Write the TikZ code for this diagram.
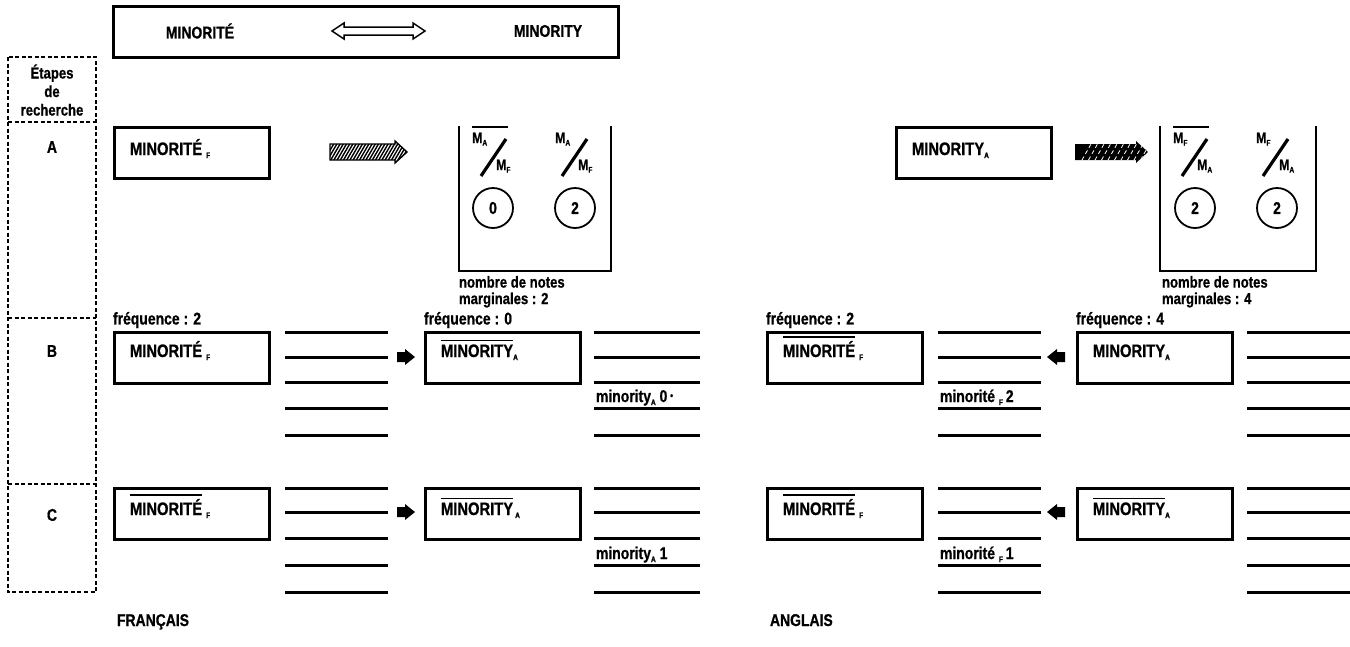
\documentclass[tikz,border=0pt]{standalone}
\usepackage{fontspec}
\newfontfamily\etroite{Liberation Sans}[FakeStretch=0.82, BoldFeatures={FakeBold=0.8}]
\usepackage{tikz}
\usetikzlibrary{positioning}

% indices et mots surlignes
\newcommand\ind[1]{\raisebox{-3pt}{\fontsize{8}{8}\selectfont #1}}
\newcommand\sous[1]{\raisebox{-2.5pt}{\fontsize{8}{8}\selectfont #1}}
\newcommand\barre[1]{\vbox{\hrule height 1.6pt\kern 3pt\hbox{#1}}}

\begin{document}
\begin{tikzpicture}[x=1pt, y=-1pt,
  txt/.style={font=\etroite\bfseries\fontsize{17}{18}\selectfont, inner sep=0pt, outer sep=0pt},
  mot/.style={txt, anchor=base west},
  motb/.style={mot, font=\etroite\bfseries\fontsize{18}{18}\selectfont},
  petit/.style={font=\etroite\bfseries\fontsize{15}{15}\selectfont, inner sep=0pt, anchor=base west},
  boite/.style={draw, line width=2.6pt, anchor=north west, minimum width=155pt, minimum height=51pt, inner sep=0pt},
  trait/.style={line width=3pt},
  tirets/.style={line width=1.6pt, dash pattern=on 4pt off 2.5pt},
  cadre/.style={line width=2.6pt},
  oblique/.style={line width=3.2pt},
  cercle/.style={txt, circle, draw, line width=1.8pt, minimum size=40pt},
  flechette/.pic={\fill (-9,-5) -- (-1,-5) -- (-1,-8) -- (9,0) -- (-1,8) -- (-1,5) -- (-9,5) -- cycle;}
]
  \useasboundingbox (0,0) rectangle (1350,646);

  % Titre
  \node[boite, minimum width=505pt] (haut) at (112,5) {};
  \node[txt] (hautF) at (200,31) {MINORITÉ};
  \node[txt] (hautA) at (548,31) {MINORITY};
  \draw[line width=1.5pt] (332,31) -- (344,23) -- (344,27) -- (413,27) -- (413,23) -- (425,31)
    -- (413,39) -- (413,35) -- (344,35) -- (344,39) -- cycle;

  % Etapes de recherche
  \draw[tirets] (8,57) rectangle (96,592);
  \draw[tirets] (8,122) -- (96,122);
  \draw[tirets] (8,318) -- (96,318);
  \draw[tirets] (8,484) -- (96,484);
  \node[txt, align=center, font=\etroite\bfseries\fontsize{16}{18.5}\selectfont] (etapes) at (52,90) {Étapes\\de\\recherche};
  \node[txt] (etA) at (52,147) {A};
  \node[txt] (etB) at (52,351) {B};
  \node[txt] (etC) at (52,515) {C};

  % Etape A, francais
  \node[boite] (fA) at (113,126) {};
  \node[motb] (fAt) at ([shift={(17,29)}]fA.north west) {MINORITÉ\hspace{4pt}\ind{F}};
  \begin{scope}
    \clip (330,144) -- (395,144) -- (395,141) -- (407,152) -- (395,163) -- (395,160) -- (330,160) -- cycle;
    \foreach \i in {0,...,27} \draw[line width=1.4pt] (322+\i*3.2,164) -- ++(14,-24);
  \end{scope}
  \draw[line width=1.4pt] (330,144) -- (395,144) -- (395,141) -- (407,152) -- (395,163) -- (395,160) -- (330,160) -- cycle;
  \draw[cadre] (459,126) -- (459,271) -- (611,271) -- (611,126);
  \draw[line width=2pt] (472,127) -- (508,127);
  \node[petit] (fMa1) at (472,143) {M\sous{A}};
  \draw[oblique] (481,176) -- (506,139);
  \node[petit] (fMf1) at (496,170) {M\sous{F}};
  \node[petit] (fMa2) at (555,143) {M\sous{A}};
  \draw[oblique] (562,176) -- (587,139);
  \node[petit] (fMf2) at (578,170) {M\sous{F}};
  \node[cercle] (fc1) at (493,208) {0};
  \node[cercle] (fc2) at (575,208) {2};
  \node[txt, anchor=north west, align=left, font=\etroite\bfseries\fontsize{16}{16.5}\selectfont] (fnotes) at (459,276) {nombre de notes\\marginales : 2};

  % Etape A, anglais
  \node[boite] (aA) at (895,126) {};
  \node[motb] (aAt) at ([shift={(17,29)}]aA.north west) {MINORITY\ind{A}};
  \fill (1075,144) -- (1136,144) -- (1136,141) -- (1148,152) -- (1136,163) -- (1136,160) -- (1075,160) -- cycle;
  \begin{scope}
    \clip (1075,144) -- (1136,144) -- (1136,141) -- (1148,152) -- (1136,163) -- (1136,160) -- (1075,160) -- cycle;
    \foreach \i in {0,...,10} \draw[white, line width=0.8pt, dash pattern=on 4pt off 3pt] (1082+\i*6.5,160) -- ++(9,-16);
  \end{scope}
  \draw[cadre] (1160,126) -- (1160,271) -- (1316,271) -- (1316,126);
  \draw[line width=2pt] (1173,127) -- (1209,127);
  \node[petit] (aMf1) at (1173,143) {M\sous{F}};
  \draw[oblique] (1182,176) -- (1207,139);
  \node[petit] (aMa1) at (1197,170) {M\sous{A}};
  \node[petit] (aMf2) at (1256,143) {M\sous{F}};
  \draw[oblique] (1263,176) -- (1288,139);
  \node[petit] (aMa2) at (1279,170) {M\sous{A}};
  \node[cercle] (ac1) at (1195,208) {2};
  \node[cercle] (ac2) at (1277,208) {2};
  \node[txt, anchor=north west, align=left, font=\etroite\bfseries\fontsize{16}{16.5}\selectfont] (anotes) at (1162,276) {nombre de notes\\marginales : 4};

  % Listes
  \foreach \y in {332,357,382,408,435,488,512,538,565,592} {
    \draw[trait] (285,\y) -- (388,\y);
    \draw[trait] (594,\y) -- (700,\y);
    \draw[trait] (938,\y) -- (1041,\y);
    \draw[trait] (1247,\y) -- (1350,\y);
  }

  % Etape B, francais
  \node[boite] (fB1) at (113,331) {};
  \node[motb] (fB1t) at ([shift={(17,26)}]fB1.north west) {MINORITÉ\hspace{4pt}\ind{F}};
  \node[txt, anchor=south west] (fB1q) at ([shift={(0,-3)}]fB1.north west) {fréquence : 2};
  \pic at (406,357) {flechette};
  \node[boite] (fB2) at (424,331) {};
  \node[motb] (fB2t) at ([shift={(17,26)}]fB2.north west) {\barre{MINORITY}\ind{A}};
  \node[txt, anchor=south west] (fB2q) at ([shift={(0,-3)}]fB2.north west) {fréquence : 0};
  \node[mot] (fB2n) at (596,402) {minority\ind{A} 0\,\raisebox{3pt}{\fontsize{10}{10}\selectfont •}};

  % Etape B, anglais
  \node[boite] (aB1) at (766,331) {};
  \node[motb] (aB1t) at ([shift={(17,26)}]aB1.north west) {\barre{MINORITÉ}\hspace{4pt}\ind{F}};
  \node[txt, anchor=south west] (aB1q) at ([shift={(0,-3)}]aB1.north west) {fréquence : 2};
  \node[mot] (aB1n) at (940,402) {minorité\hspace{4pt}\ind{F}\,2};
  \pic[xscale=-1] at (1056,357) {flechette};
  \node[boite] (aB2) at (1076,331) {};
  \node[motb] (aB2t) at ([shift={(17,26)}]aB2.north west) {MINORITY\ind{A}};
  \node[txt, anchor=south west] (aB2q) at ([shift={(0,-3)}]aB2.north west) {fréquence : 4};

  % Etape C, francais
  \node[boite] (fC1) at (113,487) {};
  \node[motb] (fC1t) at ([shift={(17,28)}]fC1.north west) {\barre{MINORITÉ}\hspace{4pt}\ind{F}};
  \pic at (406,512) {flechette};
  \node[boite] (fC2) at (424,487) {};
  \node[motb] (fC2t) at ([shift={(17,28)}]fC2.north west) {\barre{MINORITY}\hspace{2pt}\ind{A}};
  \node[mot] (fC2n) at (596,559) {minority\ind{A}\hspace{4pt}1};

  % Etape C, anglais
  \node[boite] (aC1) at (766,487) {};
  \node[motb] (aC1t) at ([shift={(17,28)}]aC1.north west) {\barre{MINORITÉ}\hspace{4pt}\ind{F}};
  \node[mot] (aC1n) at (940,559) {minorité\hspace{4pt}\ind{F}\,1};
  \pic[xscale=-1] at (1056,512) {flechette};
  \node[boite] (aC2) at (1076,487) {};
  \node[motb] (aC2t) at ([shift={(17,28)}]aC2.north west) {\barre{MINORITY}\ind{A}};

  % Langues
  \node[mot] (fr) at (117,626) {FRANÇAIS};
  \node[mot] (en) at (770,626) {ANGLAIS};
\end{tikzpicture}
\end{document}
